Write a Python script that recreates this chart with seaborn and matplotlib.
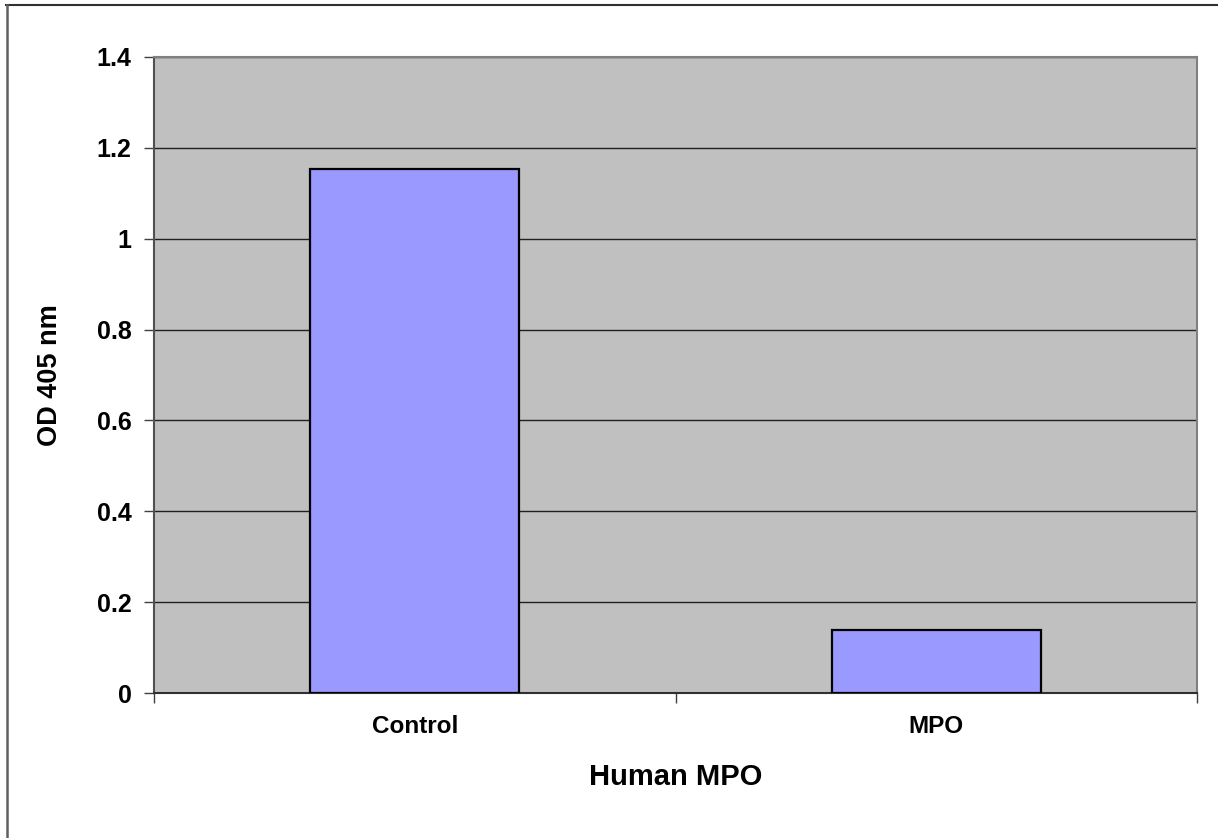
import pandas as pd
import numpy as np
import seaborn as sns
import matplotlib.pyplot as plt
from matplotlib.lines import Line2D

# values
groups = ["Control", "MPO"]
od405 = [1.153, 0.139]

df = pd.DataFrame({"group": groups, "od": od405})

plt.rcParams['font.family'] = ['Liberation Sans', 'DejaVu Sans']
plt.rcParams['font.weight'] = 'bold'

fig = plt.figure(figsize=(12.18, 8.38), dpi=100)
ax = fig.add_axes([0.1264, 0.173, 0.8564, 0.759])
ax.set_facecolor("#C0C0C0")

sns.barplot(data=df, x="group", y="od", color="#9999FF", width=0.4,
            edgecolor="black", linewidth=1.6, saturation=1, ax=ax, zorder=3)

ax.set_ylim(0, 1.4)
ax.set_xlim(-0.5, 1.5)
ax.set_yticks(np.arange(0, 1.41, 0.2))
ax.set_yticklabels(["0", "0.2", "0.4", "0.6", "0.8", "1", "1.2", "1.4"])
ax.yaxis.grid(True, color="#202020", linewidth=1.0, zorder=1)
ax.set_axisbelow(True)

# category dividers as ticks below the axis
ax.set_xticks([-0.5, 0.5, 1.5], minor=True)
ax.tick_params(axis="x", which="major", length=0, pad=15.5, labelsize=17.5)
ax.tick_params(axis="x", which="minor", length=7, width=1, color="#404040", direction="out")
ax.tick_params(axis="y", length=7, width=1, color="#404040", direction="out", labelsize=18, pad=9)

for lab in ax.get_xticklabels() + ax.get_yticklabels():
    lab.set_fontweight("bold")

ax.set_xlabel("Human MPO", fontsize=21, fontweight="bold")
ax.set_ylabel("OD 405 nm", fontsize=19.5, fontweight="bold")
ax.xaxis.label.set_va("center")
ax.yaxis.label.set_va("center")
ax.xaxis.set_label_coords(0.5, (693 - 777) / 636)
ax.yaxis.set_label_coords((50 - 154) / 1042, 0.5)

ax.spines["top"].set_color("#808080")
ax.spines["right"].set_color("#808080")
ax.spines["left"].set_color("#505050")
ax.spines["bottom"].set_color("#303030")
for s in ax.spines.values():
    s.set_linewidth(1.5)

# outer chart frame (only top and left edges show in the reference)
fig.add_artist(Line2D([6/1218, 1], [1 - 5/838, 1 - 5/838], color="#303030", linewidth=1.5))
fig.add_artist(Line2D([6.5/1218, 6.5/1218], [0, 1 - 5/838], color="#606060", linewidth=1.8))

fig.savefig("out.png", dpi=100)
